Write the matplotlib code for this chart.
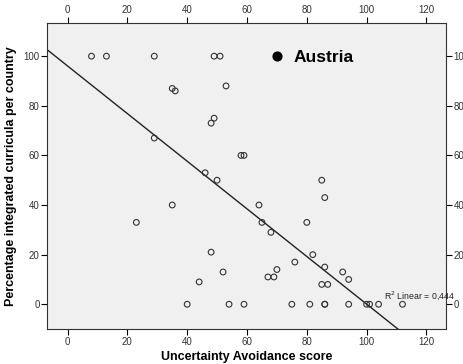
import numpy as np
import matplotlib
matplotlib.use("Agg")
import matplotlib.pyplot as plt

plt.rcParams['font.family'] = ['Liberation Sans', 'DejaVu Sans']

# Uncertainty avoidance score vs. percentage integrated curricula
ua_score = [8, 13, 29, 49, 51, 35, 36, 53, 49, 48, 29, 58, 59, 46, 50,
            35, 23, 64, 65, 68, 48, 52, 44, 40, 54, 59,
            85, 86, 80, 82, 76, 70, 67, 69, 86, 92, 94, 85, 87,
            75, 81, 86, 86, 94, 100, 101, 104, 112]
pct_integrated = [100, 100, 100, 100, 100, 87, 86, 88, 75, 73, 67, 60, 60, 53, 50,
                  40, 33, 40, 33, 29, 21, 13, 9, 0, 0, 0,
                  50, 43, 33, 20, 17, 14, 11, 11, 15, 13, 10, 8, 8,
                  0, 0, 0, 0, 0, 0, 0, 0, 0]

austria_x = [70]
austria_y = [100]
r2_label = "R$^2$ Linear = 0,444"

fig = plt.figure(figsize=(4.63, 3.64), dpi=100)
ax = fig.add_axes([0.102, 0.096, 0.861, 0.841])
ax.set_facecolor('#f0f0f0')

ax.scatter(ua_score, pct_integrated, s=17, facecolors='none',
           edgecolors='#333333', linewidths=0.8, zorder=3)
ax.scatter(austria_x, austria_y, s=40, color='black', zorder=4)
ax.text(austria_x[0] + 5.5, austria_y[0] - 0.5, "Austria", fontsize=12.5,
        fontweight='bold', va='center', ha='left')

# linear fit line across the whole plot
slope, intercept = np.polyfit(ua_score, pct_integrated, 1)
xs = np.array([-10, 130])
ax.plot(xs, slope * xs + intercept, color='#222222', lw=1, zorder=2)

ax.text(117.5, 0.8, r2_label, fontsize=6.3, ha='center', va='bottom', color='#222222')

ax.set_xlim(-6.8, 126.5)
ax.set_ylim(-10, 113.4)
ax.set_xticks([0, 20, 40, 60, 80, 100, 120])
ax.set_yticks([0, 20, 40, 60, 80, 100])
ax.tick_params(top=True, labeltop=True, right=True, labelright=True,
               direction='out', length=4, width=0.8, labelsize=7,
               labelcolor='#333333', pad=1.5)
for sp in ax.spines.values():
    sp.set_color('#333333')
    sp.set_linewidth(0.8)

ax.set_xlabel("Uncertainty Avoidance score", fontsize=9, fontweight='bold', labelpad=3)
ax.set_ylabel("Percentage integrated curricula per country", fontsize=9,
              fontweight='bold', labelpad=5)

fig.savefig("out.png", dpi=100)
